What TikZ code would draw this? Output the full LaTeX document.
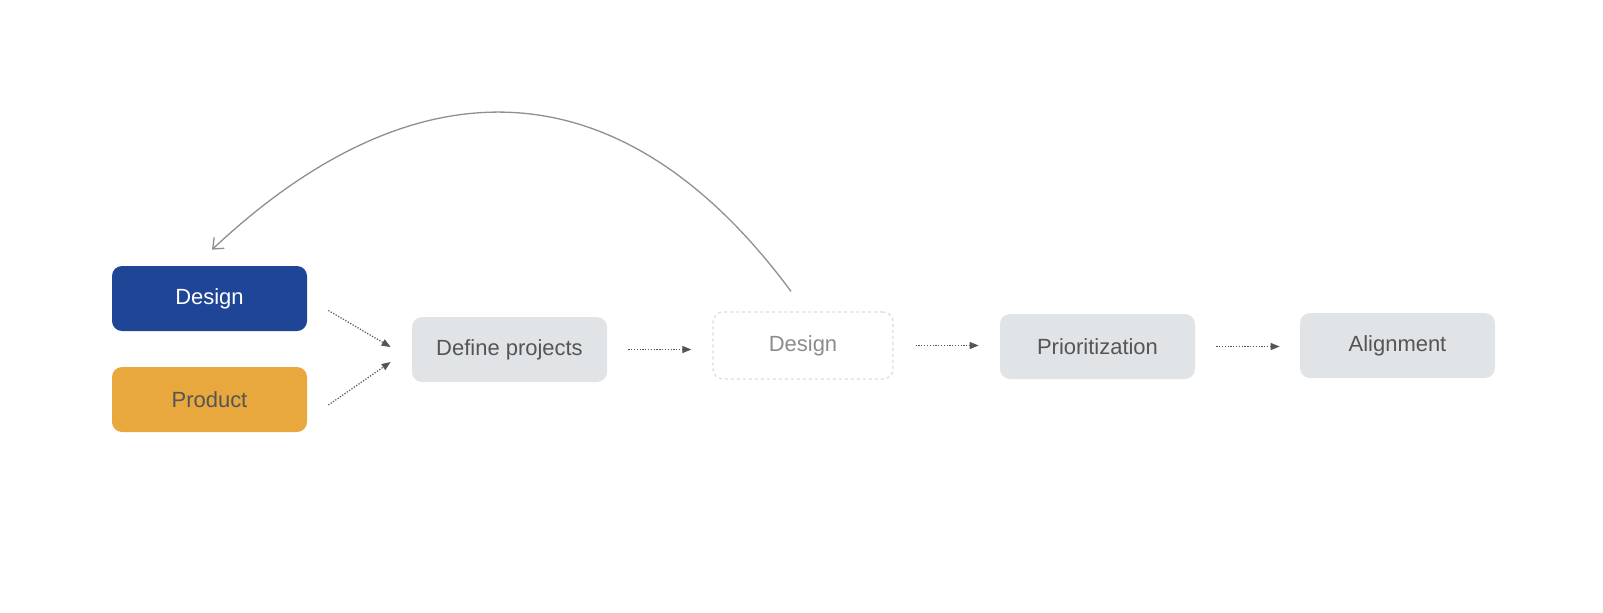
\documentclass[tikz,border=0pt]{standalone}
\usepackage{fontspec}
\setmainfont{Liberation Sans}
\usepackage{tikz}
\usetikzlibrary{calc,arrows.meta}
\definecolor{designblue}{HTML}{1F4696}
\definecolor{productorange}{HTML}{E8A83E}
\definecolor{stepgrey}{HTML}{E1E4E7}
\definecolor{textgrey}{HTML}{555555}
\definecolor{ghostline}{HTML}{DCDCDC}
\definecolor{ghosttext}{HTML}{8C8C8C}
\definecolor{loopgrey}{HTML}{8F8F8F}
\tikzset{
	box/.style={rounded corners=2mm, minimum width=39mm, minimum height=13mm, inner sep=0pt, font=\fontsize{12.5}{15}\selectfont},
	flow/.style={draw=textgrey, line width=0.7pt, dash pattern=on 0.7pt off 0.9pt, -{Triangle[length=1.8mm,width=1.4mm]}},
}

\begin{document}
\begin{tikzpicture}[x=0.2mm,y=-0.2mm]
			%%%%% START %%%%%
			\useasboundingbox (0, 0) rectangle (1603, 612);
			
			\node[box, fill=designblue, text=white] (design) at (209.5, 298.5) {Design};
			\node[box, fill=productorange, text=textgrey] (product) at (209.5, 399.5) {Product};
			\node[box, fill=stepgrey, text=textgrey] (define) at (509.5, 349.5) {Define projects};
			\node[box, minimum width=36mm, minimum height=13.4mm, draw=ghostline, line width=0.25mm, dash pattern=on 0.6mm off 0.6mm, text=ghosttext] (ghost) at (803, 345.5) {Design};
			\node[box, fill=stepgrey, text=textgrey] (prio) at (1097.5, 346.5) {Prioritization};
			\node[box, fill=stepgrey, text=textgrey] (align) at (1397.5, 345.5) {Alignment};
			
			\draw[flow] ($(design.east)+(21, 12)$) -- ($(define.west)+(-21, -2.5)$);
			\draw[flow] ($(product.east)+(21, 5.5)$) -- ($(define.west)+(-21, 12.5)$);
			\draw[flow, shorten <=4.2mm, shorten >=4.2mm] (define.east) -- (define.east -| ghost.west);
			\draw[flow, shorten <=4.4mm, shorten >=4.2mm] (ghost.east) -- (ghost.east -| prio.west);
			\draw[flow, shorten <=4.2mm, shorten >=4mm] (prio.east) -- (prio.east -| align.west);
			
			\draw[loopgrey, line width=0.26mm, -{Straight Barb[length=1.8mm,width=3mm]}] ($(ghost.north)+(-12, -20)$) .. controls (620, 60) and (414, 60) .. ($(design.north)+(2.5, -16)$);
			
			%%%%% END %%%%%
		\end{tikzpicture}
\end{document}
